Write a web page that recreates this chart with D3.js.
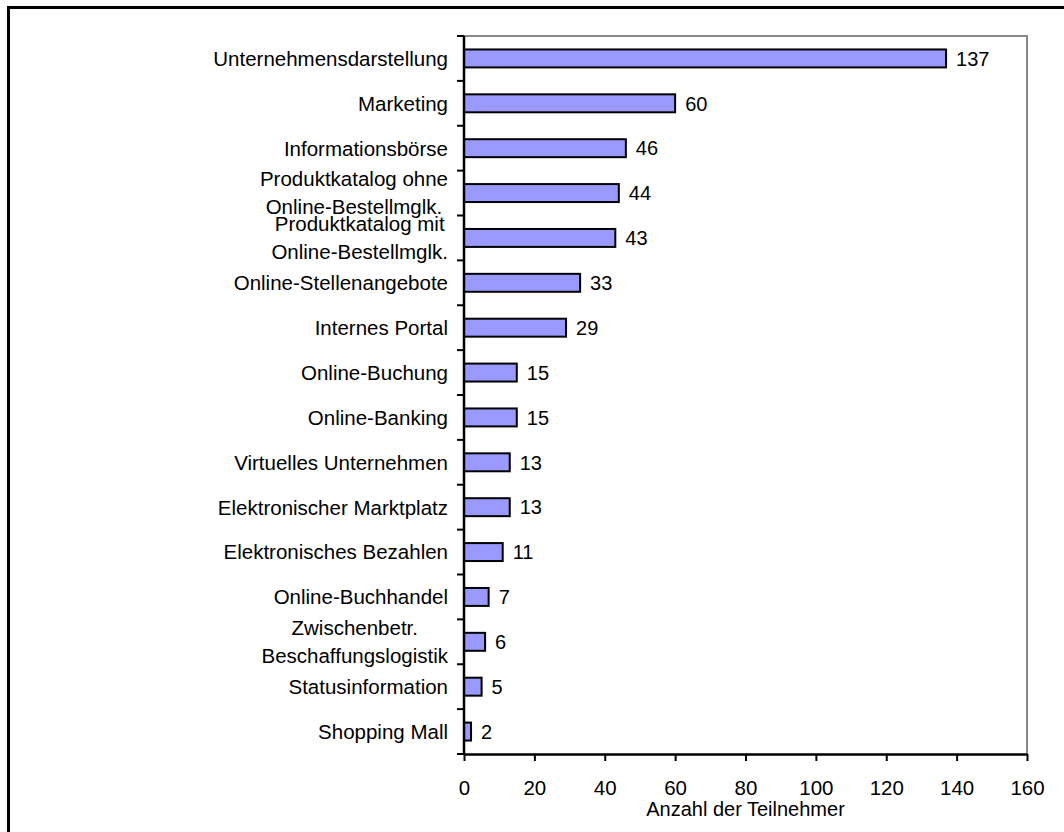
<!DOCTYPE html>
<html>
<head>
<meta charset="utf-8">
<script src="https://cdn.jsdelivr.net/npm/d3@7"></script>
<style>
  body { margin: 0; background: #fff; }
  text { font-family: Arial, "Liberation Sans", sans-serif; fill: #000; }
</style>
</head>
<body>
<div id="chart"></div>
<script>
// categories (top to bottom), "|" marks a line break
var categories = [
    "Unternehmensdarstellung",
    "Marketing",
    "Informationsbörse",
    "Produktkatalog ohne|Online-Bestellmglk.",
    "Produktkatalog mit|Online-Bestellmglk.",
    "Online-Stellenangebote",
    "Internes Portal",
    "Online-Buchung",
    "Online-Banking",
    "Virtuelles Unternehmen",
    "Elektronischer Marktplatz",
    "Elektronisches Bezahlen",
    "Online-Buchhandel",
    "Zwischenbetr.|Beschaffungslogistik",
    "Statusinformation",
    "Shopping Mall"
];
var values = [137, 60, 46, 44, 43, 33, 29, 15, 15, 13, 13, 11, 7, 6, 5, 2];
var xTicks = [0, 20, 40, 60, 80, 100, 120, 140, 160];
var xTitle = "Anzahl der Teilnehmer";

var W = 1064, H = 832;
var margin = { top: 36, right: 37, bottom: 78, left: 464 };
var width = W - margin.left - margin.right,
    height = H - margin.top - margin.bottom;
var fontSize = 20, labelSize = 20.5;

var svg = d3.select("#chart").append("svg")
    .attr("width", W)
    .attr("height", H);

// outer frame
svg.append("rect")
    .attr("x", 8.5).attr("y", 7.5)
    .attr("width", W + 20).attr("height", H + 20)
    .attr("fill", "none")
    .attr("stroke", "#000")
    .attr("stroke-width", 3);

var g = svg.append("g")
    .attr("transform", "translate(" + margin.left + "," + margin.top + ")");

var x = d3.scaleLinear().domain([0, 160]).range([0, width]);
var y = d3.scaleBand().domain(d3.range(categories.length)).range([0, height])
    .paddingInner(0.6).paddingOuter(0.3);

// gray top/right frame of plot area
g.append("path")
    .attr("d", "M0,0H" + width + "V" + height)
    .attr("fill", "none")
    .attr("stroke", "#888")
    .attr("stroke-width", 2);

// bars
g.selectAll("rect.bar").data(values).enter().append("rect")
    .attr("class", "bar")
    .attr("x", x(0))
    .attr("y", function(d, i) { return y(i); })
    .attr("width", function(d) { return x(d) - x(0); })
    .attr("height", y.bandwidth())
    .attr("fill", "#9999ff")
    .attr("stroke", "#000")
    .attr("stroke-width", 2);

// value labels
g.selectAll("text.val").data(values).enter().append("text")
    .attr("class", "val")
    .attr("x", function(d) { return x(d) + 10; })
    .attr("y", function(d, i) { return y(i) + y.bandwidth() / 2; })
    .attr("dy", "0.36em")
    .style("font-size", fontSize + "px")
    .text(function(d) { return d; });

// x axis
var xAxis = d3.axisBottom(x).tickValues(xTicks).tickSize(7).tickPadding(19).tickSizeOuter(0);
var xg = g.append("g")
    .attr("transform", "translate(0," + height + ")")
    .call(xAxis);
xg.select(".domain").attr("stroke", "#000").attr("stroke-width", 2.5);
xg.selectAll(".tick line").attr("stroke", "#000").attr("stroke-width", 2);
xg.selectAll(".tick text")
    .style("font-family", "Arial, 'Liberation Sans', sans-serif")
    .style("font-size", labelSize + "px")
    .attr("fill", "#000");

g.append("text")
    .attr("x", width / 2)
    .attr("y", height + 62)
    .attr("text-anchor", "middle")
    .style("font-size", fontSize + "px")
    .text(xTitle);

// y axis line and ticks at band boundaries
g.append("line")
    .attr("x1", 0).attr("x2", 0)
    .attr("y1", 0).attr("y2", height)
    .attr("stroke", "#000").attr("stroke-width", 2.5);
var bounds = d3.range(categories.length + 1).map(function(i) { return i * height / categories.length; });
g.selectAll("line.ytick").data(bounds).enter().append("line")
    .attr("class", "ytick")
    .attr("x1", -7).attr("x2", 0)
    .attr("y1", function(d) { return d; })
    .attr("y2", function(d) { return d; })
    .attr("stroke", "#000").attr("stroke-width", 2);

// category labels (multi-line labels centred as a block, right aligned)
var lineGap = 28;
categories.forEach(function(c, i) {
    var lines = c.split("|");
    var cy = y(i) + y.bandwidth() / 2;
    var lg = g.append("g");
    var texts = lines.map(function(l, k) {
        return lg.append("text")
            .attr("y", cy + (k - (lines.length - 1) / 2) * lineGap)
            .attr("dy", "0.36em")
            .attr("text-anchor", "middle")
            .style("font-size", labelSize + "px")
            .text(l);
    });
    var maxW = d3.max(texts, function(t) { return t.node().getComputedTextLength(); });
    texts.forEach(function(t) { t.attr("x", -16 - maxW / 2); });
});
</script>
</body>
</html>
